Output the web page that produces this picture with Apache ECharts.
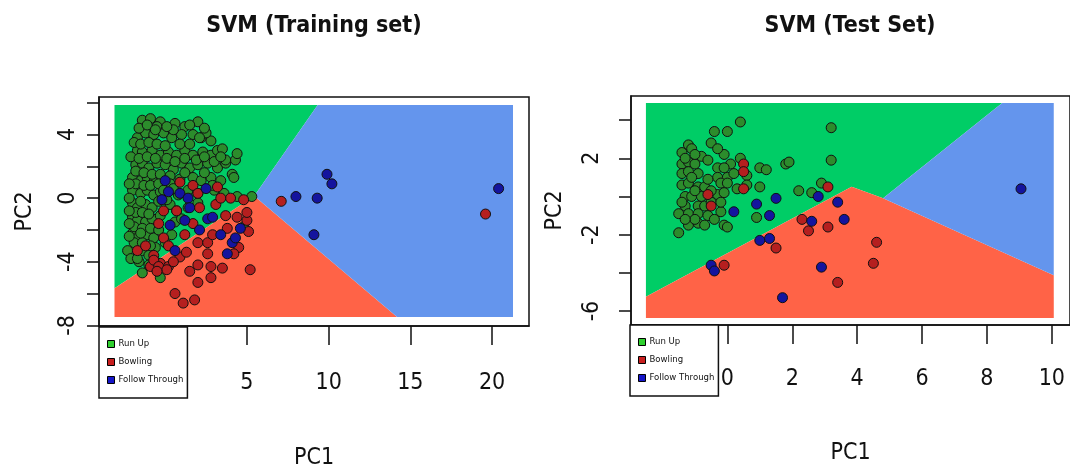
<!DOCTYPE html>
<html>
<head>
<meta charset="utf-8">
<script src="https://cdn.jsdelivr.net/npm/echarts@6/dist/echarts.min.js"></script>
<style>
html,body{margin:0;padding:0;background:#fff;}
#chart{width:1070px;height:471px;}
</style>
</head>
<body>
<div id="chart"></div>
<script>
// ---------- Training set points [PC1, PC2] ----------
const trainGreen = [
  [-1.4,4.9],[-0.9,5.0],[-0.3,4.8],[0.6,4.7],[1.2,4.5],[2.0,4.8],
  [-1.7,3.8],[-1.2,4.1],[-0.7,4.0],[-0.1,4.1],[0.4,3.8],[1.0,4.0],[1.7,4.0],[2.2,3.8],[2.8,3.6],
  [-1.7,3.0],[-1.4,2.9],[-0.8,3.0],[-0.3,2.7],[0.2,2.9],[0.7,2.7],[1.2,3.0],[1.7,2.7],[2.3,2.9],[2.8,2.7],[3.2,3.0],
  [-1.8,2.1],[-1.4,2.2],[-1.0,1.9],[-0.5,2.2],[0.0,2.1],[0.5,1.8],[1.0,2.2],[1.5,1.9],[2.0,2.1],[2.6,2.2],[3.2,1.9],[3.7,2.2],[4.3,2.4],
  [-2.0,1.3],[-1.5,1.1],[-1.1,1.3],[-0.7,1.0],[1.7,1.3],[2.2,1.1],[2.8,1.3],[3.4,1.1],[4.1,1.5],
  [-2.0,0.5],[-1.5,0.3],[-1.1,0.5],[-0.7,0.2],[-0.3,0.4],[0.8,0.2],[1.4,0.5],[2.0,0.3],[3.0,0.5],[3.6,0.3],[4.4,0.1],[5.3,0.1],
  [-2.0,-0.3],[-1.7,-0.6],[-1.2,-0.4],[-0.8,-0.6],[0.3,-0.4],[1.4,-0.6],[2.0,-0.3],
  [-2.0,-1.2],[-1.7,-1.4],[-1.2,-1.5],[-0.8,-1.3],[0.6,-1.5],[1.0,-1.3],
  [-2.0,-2.2],[-1.7,-2.5],[-1.1,-2.3],[-0.7,-2.5],[0.4,-2.3],
  [-2.3,-3.3],[-1.4,-3.3],[-1.0,-3.6],[-0.6,-3.1],
  [-1.4,-4.7],[-0.3,-5.0],
  [4.8,-1.8],[4.2,1.3],[4.4,2.8],[3.5,3.1],[2.5,4.1],[2.1,3.8],[3.7,2.4],
  [-1.9,3.5],[-1.5,3.4],[-1.0,3.5],[-0.5,3.4],[0.0,3.3],[-1.8,1.7],[-1.3,1.6],[-0.8,1.5],[-0.3,1.5],[0.3,1.4],
  [-1.8,0.9],[-1.3,0.8],[-0.9,0.8],[-0.4,0.9],[-1.8,-0.9],[-1.4,-0.9],[-1.0,-1.0],[-1.9,-1.8],[-1.4,-1.9],[-0.9,-1.9],
  [-1.9,-2.8],[-1.4,-2.8],[-0.9,-3.0],[-2.1,-3.8],[-1.6,-4.0],[-1.0,-4.2],[0.9,3.4],[1.5,3.4],[0.5,4.3],[-0.5,4.5],
  [0.1,-0.1],[0.7,-0.8],[-0.4,-0.2],[1.9,2.4],[2.4,1.6],[2.9,0.8],[0.9,1.2],[0.3,0.9],
  [-1.6,4.4],[-1.1,4.6],[-0.6,4.3],[0.1,4.5],[1.5,4.6],[2.4,4.4],[-2.1,2.6],[-1.6,2.5],[-1.1,2.6],[-0.6,2.5],
  [0.1,2.5],[0.6,2.3],[1.2,2.5],[-2.2,-0.8],[-2.2,0.0],[-2.2,0.9],[-1.5,-0.2],[-2.2,-1.6],[-1.5,-2.2],[-2.2,-2.4],
  [-0.3,-1.1],[-0.4,-2.0],[0.0,-2.8],[-1.7,-3.8],[2.4,2.6],[3.0,2.3],[3.4,2.6],[1.2,1.6],[-0.1,0.5],[0.5,0.6]
];
const trainRed = [
  [0.9,1.0],[1.7,0.8],[2.0,0.3],[3.2,0.7],[4.0,0.0],[4.8,-0.1],[-0.1,-0.8],[0.7,-0.8],[-0.4,-1.6],[-0.1,-2.5],
  [0.2,-3.0],[-0.7,-3.6],[-0.3,-4.1],[0.2,-4.3],[0.9,-3.7],[1.7,-1.6],[2.0,-2.8],[2.6,-2.8],[2.9,-2.3],[3.7,-1.1],
  [4.4,-1.2],[5.0,-1.4],[5.1,-2.1],[4.5,-3.1],[4.2,-3.5],[2.6,-3.5],[2.0,-4.2],[2.8,-4.3],[3.5,-4.4],[5.2,-4.5],
  [2.0,-5.3],[2.8,-5.0],[0.6,-6.0],[1.1,-6.6],[1.8,-6.4],[-1.7,-3.3],[-0.9,-4.3],[1.2,-2.3],[3.8,-1.9],[3.1,-0.4],
  [2.1,-0.6],[3.4,0.0],[5.0,-0.9],[-0.7,-3.9],[-0.4,-4.3],[0.1,-4.5],[-0.5,-4.6],[0.5,-4.0],[1.3,-3.4],[1.5,-4.6],
  [-1.2,-3.0],[7.1,-0.2],[19.6,-1.0]
];
const trainBlue = [
  [0.0,1.1],[0.2,0.4],[0.9,0.3],[1.4,0.0],[2.5,0.6],[2.6,-1.3],[2.9,-1.2],[3.4,-2.3],[3.8,-3.5],[4.1,-2.8],
  [4.3,-2.5],[4.6,-1.9],[0.3,-1.7],[0.6,-3.3],[2.1,-2.0],[1.5,-0.6],[-0.2,-0.1],[1.2,-1.4],
  [8.0,0.1],[9.3,0.0],[9.9,1.5],[10.2,0.9],[9.1,-2.3],[20.4,0.6]
];
// ---------- Test set points [PC1, PC2] ----------
const testGreen = [
  [0.4,3.9],[-0.4,3.4],[0.0,3.4],[-0.5,2.8],[-1.2,2.7],[-1.1,2.5],[-1.4,2.3],[-0.8,2.1],[-0.1,2.2],[0.1,1.7],
  [-0.3,1.5],[-0.1,1.5],[-1.4,1.7],[-1.2,1.8],[-1.0,1.7],[-1.4,1.2],[-1.2,1.3],[-0.9,1.2],[-0.3,1.0],[0.0,1.0],
  [-0.2,0.7],[0.0,0.7],[-1.4,0.6],[-1.2,0.7],[-0.9,0.5],[-0.7,0.5],[-1.3,0.0],[-1.1,0.0],[-0.8,0.0],[-0.3,0.1],
  [-0.1,0.2],[-1.3,-0.5],[-0.9,-0.5],[-0.7,-0.5],[-0.2,-0.8],[-1.5,-0.9],[-1.2,-0.9],[-0.9,-0.9],[-0.6,-1.0],[-1.2,-1.5],
  [-0.9,-1.4],[-0.1,-1.5],[0.0,-1.6],[-1.5,-1.9],[0.6,1.1],[0.6,0.6],[1.0,1.5],[1.2,1.4],[1.0,0.5],[0.9,-1.1],
  [1.8,1.7],[1.9,1.8],[2.2,0.3],[2.6,0.2],[2.9,0.7],[3.2,3.6],[3.2,1.9],
  [-1.3,2.0],[-1.0,2.2],[-0.6,1.9],[-1.1,1.0],[-0.6,0.9],[-0.5,0.3],[-1.0,0.3],[-1.4,-0.3],[-0.5,-0.3],[-1.0,-1.2],
  [-0.4,-1.2],[-1.3,-1.2],[-0.7,-1.5],[0.4,2.0],[0.2,1.2],[0.3,0.4],[-0.3,2.5],[-0.2,-0.3]
];
const testRed = [
  [0.5,1.7],[0.5,1.3],[0.5,0.4],[-0.6,0.1],[-0.5,-0.5],[2.3,-1.2],[2.5,-1.8],[3.1,-1.6],[1.5,-2.7],[3.1,0.5],
  [-0.1,-3.6],[3.4,-4.5],[4.6,-2.4],[4.5,-3.5]
];
const testBlue = [
  [0.2,-0.8],[0.9,-0.4],[1.5,-0.1],[1.3,-1.0],[1.0,-2.3],[1.3,-2.2],[-0.5,-3.6],[-0.4,-3.9],[1.7,-5.3],[2.8,0.0],
  [2.6,-1.3],[3.4,-0.3],[3.6,-1.2],[2.9,-3.7],[9.05,0.4]
];
// ---------- Decision regions (polygon vertices) ----------
const trainRegionGreen = [[-3.1,5.86],[9.33,5.86],[5.45,0.14],[-3.1,-5.67]];
const trainRegionRed   = [[-3.1,-5.67],[5.45,0.14],[14.19,-7.48],[-3.1,-7.48]];
const trainRegionBlue  = [[9.33,5.86],[21.28,5.86],[21.28,-7.48],[14.19,-7.48],[5.45,0.14]];
const testRegionGreen  = [[-2.51,4.89],[8.47,4.89],[4.80,-0.1],[3.83,0.51],[-2.51,-5.25]];
const testRegionRed    = [[-2.51,-5.25],[3.83,0.51],[4.80,-0.1],[10.06,-4.12],[10.06,-6.37],[-2.51,-6.37]];
const testRegionBlue   = [[8.47,4.89],[10.06,4.89],[10.06,-4.12],[4.80,-0.1]];
// ---------- Ticks ----------
const trainXTicks = [0,5,10,15,20];
const trainYTicks = [-8,-6,-4,-2,0,2,4,6];
const trainYLabels = [-8,-4,0,4];
const testXTicks = [0,2,4,6,8,10];
const testYTicks = [-6,-4,-2,0,2,4];
const testYLabels = [-6,-2,2];
const classNames = ['Run Up','Bowling','Follow Through'];
const titles = ['SVM (Training set)','SVM (Test Set)'];

const FONT = "'Liberation Sans Narrow','Arial Narrow','DejaVu Sans Condensed',sans-serif";
const REGION_COLORS = ['#00CD66','#FF6347','#6495ED'];
const POINT_COLORS = ['#2c8c2c','#b51f1f','#14149e'];
const LEGEND_COLORS = ['#2fd02f','#c81e1e','#1515c8'];
const AXIS_COLOR = '#111';
const LABEL_SIZE = 23;

function regionSeries(poly, color, gi) {
  return {
    type: 'custom', coordinateSystem: 'cartesian2d', xAxisIndex: gi, yAxisIndex: gi,
    silent: true, z: 1, data: poly,
    renderItem: function (params, api) {
      if (params.dataIndex !== 0) return null;
      return { type: 'polygon', shape: { points: poly.map(p => api.coord(p)) },
               style: { fill: color } };
    }
  };
}
function pointSeries(name, data, color, gi) {
  return {
    type: 'scatter', name: name, xAxisIndex: gi, yAxisIndex: gi, data: data, z: 3,
    symbol: 'circle', symbolSize: 10,
    itemStyle: { color: color, borderColor: '#111', borderWidth: 1, opacity: 1 },
    emphasis: { disabled: true }
  };
}
function xAxisCfg(gi, min, max, ticks, margin, nameGap) {
  return {
    type: 'value', gridIndex: gi, min: min, max: max,
    name: 'PC1', nameLocation: 'middle', nameGap: nameGap,
    nameTextStyle: { fontSize: LABEL_SIZE, fontFamily: FONT, color: AXIS_COLOR },
    axisLine: { show: true, onZero: false, lineStyle: { color: AXIS_COLOR, width: 1.5 } },
    axisTick: { show: true, length: 19, customValues: ticks, lineStyle: { color: AXIS_COLOR, width: 1.5 } },
    axisLabel: { customValues: ticks, margin: margin, fontSize: LABEL_SIZE, fontFamily: FONT, color: AXIS_COLOR },
    splitLine: { show: false }
  };
}
function yAxisCfg(gi, min, max, ticks, labels, margin, nameGap) {
  return {
    type: 'value', gridIndex: gi, min: min, max: max,
    name: 'PC2', nameLocation: 'middle', nameGap: nameGap, nameRotate: 90,
    nameTextStyle: { fontSize: LABEL_SIZE, fontFamily: FONT, color: AXIS_COLOR },
    axisLine: { show: true, onZero: false, lineStyle: { color: AXIS_COLOR, width: 1.5 } },
    axisTick: { show: true, length: 12, customValues: ticks, lineStyle: { color: AXIS_COLOR, width: 1.5 } },
    axisLabel: { customValues: labels, rotate: 90, margin: margin, fontSize: LABEL_SIZE, fontFamily: FONT, color: AXIS_COLOR },
    splitLine: { show: false }
  };
}
function legendCfg(left, top) {
  return {
    left: left, top: top, orient: 'vertical', selectedMode: false,
    data: classNames.map((n, i) => ({ name: n, icon: 'rect',
      itemStyle: { color: LEGEND_COLORS[i], borderColor: '#000', borderWidth: 1 } })),
    itemWidth: 7, itemHeight: 7, itemGap: 8,
    padding: [12, 4, 13, 8],
    borderColor: AXIS_COLOR, borderWidth: 1.5, backgroundColor: '#fff',
    textStyle: { fontSize: 9.5, fontFamily: FONT, color: '#111', padding: [0, 0, 0, -1] }, z: 10
  };
}

const chart = echarts.init(document.getElementById('chart'), null, { renderer: 'canvas' });
chart.setOption({
  animation: false,
  backgroundColor: '#fff',
  grid: [
    { left: 99, top: 97, width: 430, height: 231, show: true, borderColor: AXIS_COLOR, borderWidth: 1.5, backgroundColor: '#fff' },
    { left: 631, top: 96, width: 442, height: 229, show: true, borderColor: AXIS_COLOR, borderWidth: 1.5, backgroundColor: '#fff' }
  ],
  xAxis: [
    xAxisCfg(0, -4.05, 22.26, trainXTicks, 46, 121),
    xAxisCfg(1, -2.97, 10.56, testXTicks, 43, 117)
  ],
  yAxis: [
    yAxisCfg(0, -8.04, 6.36, trainYTicks, trainYLabels, 19, 62),
    yAxisCfg(1, -6.73, 5.26, testYTicks, testYLabels, 27, 64)
  ],
  legend: [legendCfg(99, 327), legendCfg(630, 325)],
  graphic: [
    { type: 'text', x: 314, y: 26, z: 100, style: { text: titles[0], align: 'center', verticalAlign: 'middle',
      fontSize: 23, fontWeight: 'bold', fontFamily: FONT, fill: '#111' } },
    { type: 'text', x: 850, y: 26, z: 100, style: { text: titles[1], align: 'center', verticalAlign: 'middle',
      fontSize: 23, fontWeight: 'bold', fontFamily: FONT, fill: '#111' } }
  ],
  series: [
    regionSeries(trainRegionGreen, REGION_COLORS[0], 0),
    regionSeries(trainRegionRed, REGION_COLORS[1], 0),
    regionSeries(trainRegionBlue, REGION_COLORS[2], 0),
    regionSeries(testRegionGreen, REGION_COLORS[0], 1),
    regionSeries(testRegionRed, REGION_COLORS[1], 1),
    regionSeries(testRegionBlue, REGION_COLORS[2], 1),
    pointSeries(classNames[0], trainGreen, POINT_COLORS[0], 0),
    pointSeries(classNames[1], trainRed, POINT_COLORS[1], 0),
    pointSeries(classNames[2], trainBlue, POINT_COLORS[2], 0),
    pointSeries(classNames[0], testGreen, POINT_COLORS[0], 1),
    pointSeries(classNames[1], testRed, POINT_COLORS[1], 1),
    pointSeries(classNames[2], testBlue, POINT_COLORS[2], 1)
  ]
});
</script>
</body>
</html>
